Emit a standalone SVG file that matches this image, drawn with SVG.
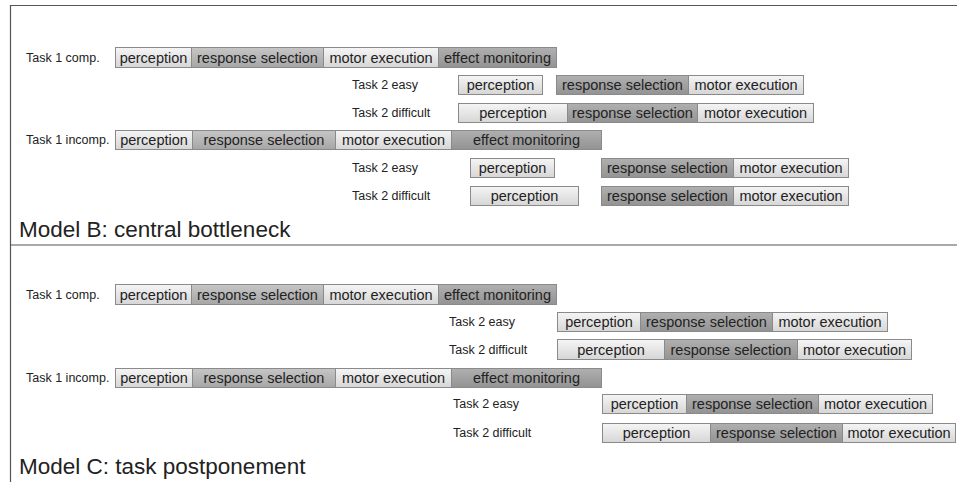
<svg xmlns="http://www.w3.org/2000/svg" width="957" height="482" viewBox="0 0 957 482">
<defs>
<linearGradient id="gL" x1="0" y1="0" x2="0" y2="1"><stop offset="0" stop-color="#f5f5f5"/><stop offset="1" stop-color="#d6d6d6"/></linearGradient>
<linearGradient id="gM" x1="0" y1="0" x2="0" y2="1"><stop offset="0" stop-color="#c6c6c6"/><stop offset="1" stop-color="#a6a6a6"/></linearGradient>
<linearGradient id="gD" x1="0" y1="0" x2="0" y2="1"><stop offset="0" stop-color="#b0b0b0"/><stop offset="1" stop-color="#939393"/></linearGradient>
</defs>
<style>
text{font-family:"Liberation Sans",Arial,sans-serif;fill:#222}
.lab{font-size:12.5px}
.bt{font-size:14.5px;text-anchor:middle}
.ttl{font-size:22.5px}
rect{stroke:#8a8a8a;stroke-width:1}
.L{fill:url(#gL)}.M{fill:url(#gM)}.D{fill:url(#gD)}
.frame{stroke:#555;stroke-width:1.2;fill:none}
</style>
<g id="frame">
<path class="frame" d="M10.5,482 V5.5 H957"/>
<path class="frame" d="M10.5,245 H957"/>
</g>
<!-- Model B -->
<g id="B_task1_comp">
<text class="lab" x="26" y="62">Task 1 comp.</text>
<rect class="L" x="115.5" y="47.5" width="76" height="20"/><text class="bt" x="153.5" y="62.5">perception</text>
<rect class="M" x="191.5" y="47.5" width="132" height="20"/><text class="bt" x="257.5" y="62.5">response selection</text>
<rect class="L" x="323.5" y="47.5" width="115" height="20"/><text class="bt" x="381" y="62.5">motor execution</text>
<rect class="D" x="438.5" y="47.5" width="118" height="20"/><text class="bt" x="497.5" y="62.5">effect monitoring</text>
</g>
<g id="B_task2_easy_1">
<text class="lab" x="352" y="89">Task 2 easy</text>
<rect class="L" x="458.5" y="75.5" width="84" height="19"/><text class="bt" x="500.5" y="90">perception</text>
<rect class="D" x="556.5" y="75.5" width="132" height="19"/><text class="bt" x="622.5" y="90">response selection</text>
<rect class="L" x="688.5" y="75.5" width="115" height="19"/><text class="bt" x="746" y="90">motor execution</text>
</g>
<g id="B_task2_diff_1">
<text class="lab" x="352" y="117">Task 2 difficult</text>
<rect class="L" x="458.5" y="103.5" width="109" height="19"/><text class="bt" x="513" y="118">perception</text>
<rect class="D" x="567.5" y="103.5" width="130" height="19"/><text class="bt" x="632.5" y="118">response selection</text>
<rect class="L" x="697.5" y="103.5" width="116" height="19"/><text class="bt" x="755.5" y="118">motor execution</text>
</g>
<g id="B_task1_incomp">
<text class="lab" x="26" y="144">Task 1 incomp.</text>
<rect class="L" x="115.5" y="130.5" width="77" height="19"/><text class="bt" x="154" y="145">perception</text>
<rect class="M" x="192.5" y="130.5" width="143" height="19"/><text class="bt" x="264" y="145">response selection</text>
<rect class="L" x="335.5" y="130.5" width="116" height="19"/><text class="bt" x="393.5" y="145">motor execution</text>
<rect class="D" x="451.5" y="130.5" width="150" height="19"/><text class="bt" x="526.5" y="145">effect monitoring</text>
</g>
<g id="B_task2_easy_2">
<text class="lab" x="352" y="172">Task 2 easy</text>
<rect class="L" x="470.5" y="158.5" width="84" height="19"/><text class="bt" x="512.5" y="173">perception</text>
<rect class="D" x="601.5" y="158.5" width="132" height="19"/><text class="bt" x="667.5" y="173">response selection</text>
<rect class="L" x="733.5" y="158.5" width="115" height="19"/><text class="bt" x="791" y="173">motor execution</text>
</g>
<g id="B_task2_diff_2">
<text class="lab" x="352" y="200">Task 2 difficult</text>
<rect class="L" x="470.5" y="186.5" width="108" height="19"/><text class="bt" x="524.5" y="201">perception</text>
<rect class="D" x="601.5" y="186.5" width="132" height="19"/><text class="bt" x="667.5" y="201">response selection</text>
<rect class="L" x="733.5" y="186.5" width="115" height="19"/><text class="bt" x="791" y="201">motor execution</text>
</g>
<g id="B_title"><text class="ttl" x="19" y="237">Model B: central bottleneck</text></g>
<!-- Model C -->
<g id="C_task1_comp">
<text class="lab" x="26" y="299">Task 1 comp.</text>
<rect class="L" x="115.5" y="284.5" width="76" height="20"/><text class="bt" x="153.5" y="299.5">perception</text>
<rect class="M" x="191.5" y="284.5" width="132" height="20"/><text class="bt" x="257.5" y="299.5">response selection</text>
<rect class="L" x="323.5" y="284.5" width="115" height="20"/><text class="bt" x="381" y="299.5">motor execution</text>
<rect class="D" x="438.5" y="284.5" width="118" height="20"/><text class="bt" x="497.5" y="299.5">effect monitoring</text>
</g>
<g id="C_task2_easy_1">
<text class="lab" x="449" y="326">Task 2 easy</text>
<rect class="L" x="557.5" y="312.5" width="83" height="19"/><text class="bt" x="599" y="327">perception</text>
<rect class="D" x="640.5" y="312.5" width="132" height="19"/><text class="bt" x="706.5" y="327">response selection</text>
<rect class="L" x="772.5" y="312.5" width="115" height="19"/><text class="bt" x="830" y="327">motor execution</text>
</g>
<g id="C_task2_diff_1">
<text class="lab" x="449" y="354">Task 2 difficult</text>
<rect class="L" x="557.5" y="339.5" width="107" height="20"/><text class="bt" x="611" y="354.5">perception</text>
<rect class="D" x="664.5" y="339.5" width="133" height="20"/><text class="bt" x="731" y="354.5">response selection</text>
<rect class="L" x="797.5" y="339.5" width="114" height="20"/><text class="bt" x="854.5" y="354.5">motor execution</text>
</g>
<g id="C_task1_incomp">
<text class="lab" x="26" y="382">Task 1 incomp.</text>
<rect class="L" x="115.5" y="368.5" width="77" height="19"/><text class="bt" x="154" y="383">perception</text>
<rect class="M" x="192.5" y="368.5" width="143" height="19"/><text class="bt" x="264" y="383">response selection</text>
<rect class="L" x="335.5" y="368.5" width="116" height="19"/><text class="bt" x="393.5" y="383">motor execution</text>
<rect class="D" x="451.5" y="368.5" width="150" height="19"/><text class="bt" x="526.5" y="383">effect monitoring</text>
</g>
<g id="C_task2_easy_2">
<text class="lab" x="453" y="408">Task 2 easy</text>
<rect class="L" x="602.5" y="394.5" width="84" height="19"/><text class="bt" x="644.5" y="409">perception</text>
<rect class="D" x="686.5" y="394.5" width="132" height="19"/><text class="bt" x="752.5" y="409">response selection</text>
<rect class="L" x="818.5" y="394.5" width="114" height="19"/><text class="bt" x="875.5" y="409">motor execution</text>
</g>
<g id="C_task2_diff_2">
<text class="lab" x="453" y="437">Task 2 difficult</text>
<rect class="L" x="602.5" y="423.5" width="108" height="19"/><text class="bt" x="656.5" y="438">perception</text>
<rect class="D" x="710.5" y="423.5" width="132" height="19"/><text class="bt" x="776.5" y="438">response selection</text>
<rect class="L" x="842.5" y="423.5" width="113" height="19"/><text class="bt" x="899" y="438">motor execution</text>
</g>
<g id="C_title"><text class="ttl" x="19" y="474">Model C: task postponement</text></g>
</svg>
